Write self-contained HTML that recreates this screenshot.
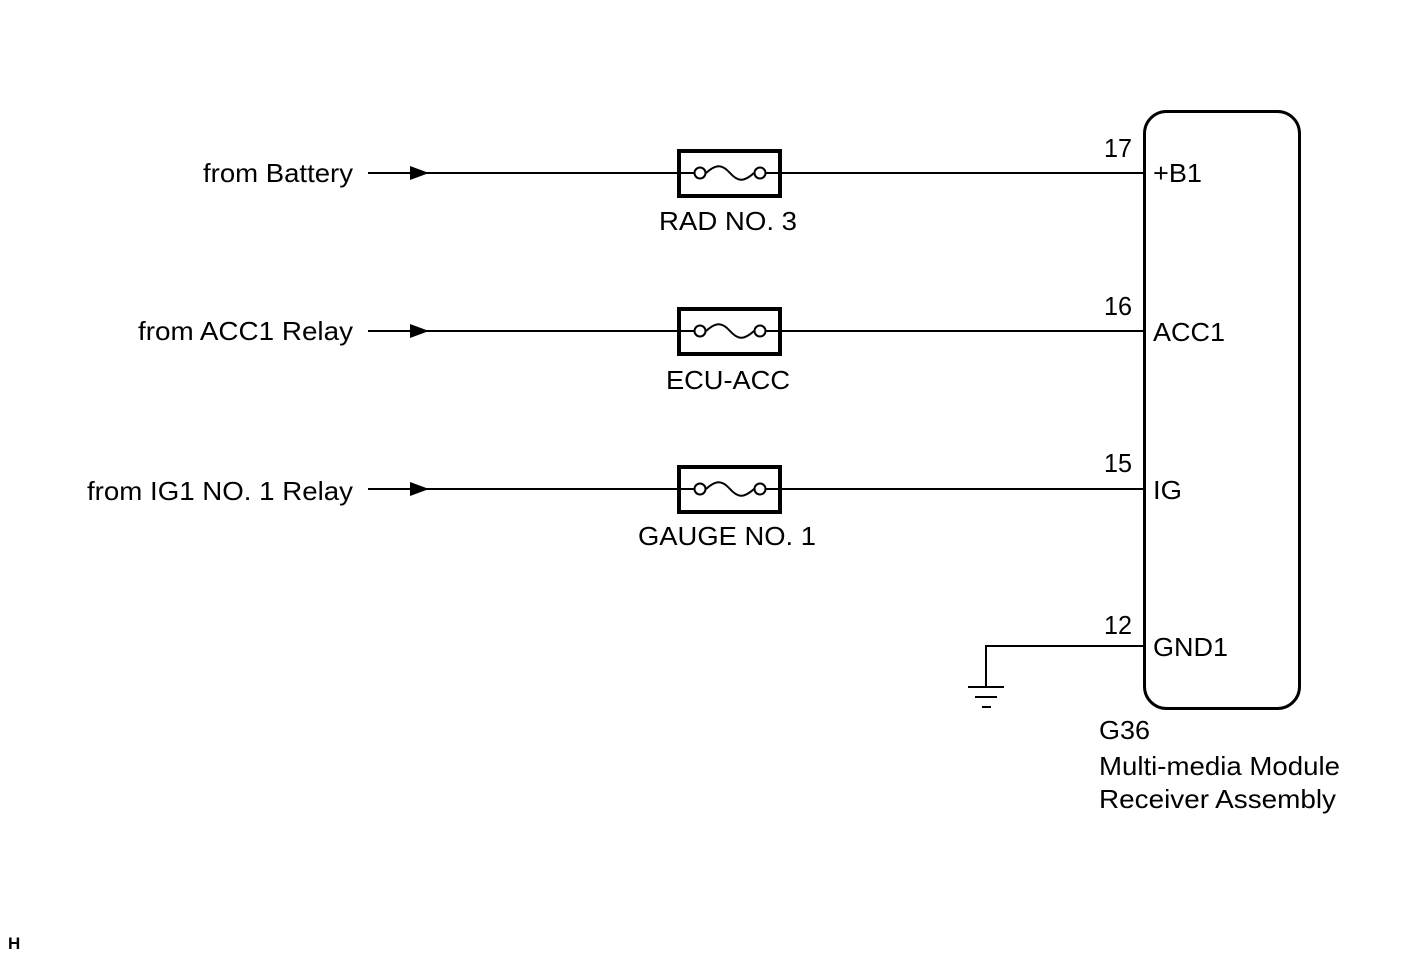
<!DOCTYPE html>
<html><head><style>
body{margin:0;background:#fff}
svg{display:block}
text{font-family:"Liberation Sans",Arial,sans-serif;font-size:26px;fill:#000}
</style></head><body>
<svg width="1424" height="959" viewBox="0 0 1424 959">
<g stroke="#000" stroke-width="2" fill="none">
<line x1="368" y1="173" x2="1143" y2="173"/>
<line x1="368" y1="331" x2="1143" y2="331"/>
<line x1="368" y1="489" x2="1143" y2="489"/>
<polyline points="1143,646 986,646 986,686"/>
<line x1="968" y1="687" x2="1004" y2="687"/>
<line x1="975" y1="697" x2="997" y2="697"/>
<line x1="982" y1="707" x2="991" y2="707"/>
</g>
<g fill="#000">
<polygon points="410,166 429,173 410,180"/>
<polygon points="410,324 429,331 410,338"/>
<polygon points="410,482 429,489 410,496"/>
</g>
<g stroke="#000" fill="#fff">
<rect x="679" y="151" width="101" height="45" stroke-width="4"/>
<rect x="679" y="309" width="101" height="45" stroke-width="4"/>
<rect x="679" y="467" width="101" height="45" stroke-width="4"/>
</g>
<g stroke="#000" stroke-width="2" fill="none">
<g id="f1"><line x1="679" y1="173" x2="694" y2="173"/><circle cx="700" cy="173" r="5.5"/><path d="M706 173 C716 164,722 164,730 173 C738 182,744 182,754 173"/><circle cx="760" cy="173" r="5.5"/><line x1="766" y1="173" x2="780" y2="173"/></g>
<use href="#f1" y="158"/>
<use href="#f1" y="316"/>
<rect x="1144.5" y="111.5" width="155" height="597" rx="22" stroke-width="3"/>
</g>
<g lengthAdjust="spacingAndGlyphs">
<text x="203" y="182" textLength="150" lengthAdjust="spacingAndGlyphs">from Battery</text>
<text x="138" y="340" textLength="215" lengthAdjust="spacingAndGlyphs">from ACC1 Relay</text>
<text x="87" y="500" textLength="266" lengthAdjust="spacingAndGlyphs">from IG1 NO. 1 Relay</text>
<text x="1104" y="157" textLength="28" lengthAdjust="spacingAndGlyphs">17</text>
<text x="1104" y="315" textLength="28" lengthAdjust="spacingAndGlyphs">16</text>
<text x="1104" y="472" textLength="28" lengthAdjust="spacingAndGlyphs">15</text>
<text x="1104" y="634" textLength="28" lengthAdjust="spacingAndGlyphs">12</text>
<text x="659" y="230" textLength="138" lengthAdjust="spacingAndGlyphs">RAD NO. 3</text>
<text x="666" y="389" textLength="124" lengthAdjust="spacingAndGlyphs">ECU-ACC</text>
<text x="638" y="545" textLength="178" lengthAdjust="spacingAndGlyphs">GAUGE NO. 1</text>
<text x="1153" y="182" textLength="49" lengthAdjust="spacingAndGlyphs">+B1</text>
<text x="1153" y="341" textLength="72" lengthAdjust="spacingAndGlyphs">ACC1</text>
<text x="1153" y="499" textLength="29" lengthAdjust="spacingAndGlyphs">IG</text>
<text x="1153" y="656" textLength="75" lengthAdjust="spacingAndGlyphs">GND1</text>
<text x="1099" y="739" textLength="51" lengthAdjust="spacingAndGlyphs">G36</text>
<text x="1099" y="775" textLength="241" lengthAdjust="spacingAndGlyphs">Multi-media Module</text>
<text x="1099" y="808" textLength="237" lengthAdjust="spacingAndGlyphs">Receiver Assembly</text>
</g>
<text x="8" y="949" style="font-size:17px;font-weight:bold">H</text>
</svg>
</body></html>
